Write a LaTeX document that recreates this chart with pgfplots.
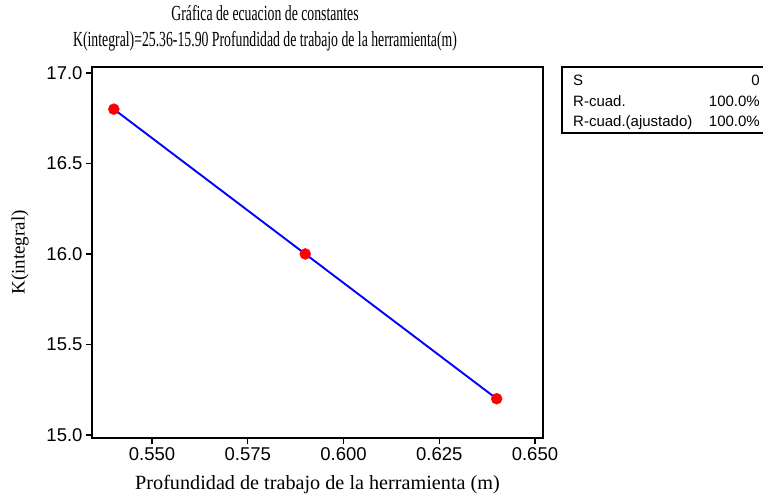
\documentclass[border=0pt]{standalone}
\usepackage{fontspec}
\usepackage{graphicx}
\usepackage{pgfplots}
\pgfplotsset{compat=1.18}
\setmainfont{Liberation Serif}
\newfontfamily\tickfont{Liberation Sans}

\begin{document}
\begin{tikzpicture}
\useasboundingbox (-92bp,-59bp) rectangle (671bp,438bp);
\begin{axis}[
  at={(0,0)}, anchor=south west,
  scale only axis,
  width=451bp, height=371bp,
  xmin=0.5343, xmax=0.6521,
  ymin=14.983, ymax=17.033,
  xtick={0.55,0.575,0.6,0.625,0.65},
  xticklabels={0.550,0.575,0.600,0.625,0.650},
  ytick={15,15.5,16,16.5,17},
  yticklabels={15.0,15.5,16.0,16.5,17.0},
  tick align=outside,
  tick pos=left,
  major tick length=6bp,
  axis line style={line width=1.6bp},
  xtick style={black, line width=1.3bp},
  ytick style={black, line width=1.3bp},
  tick label style={font=\tickfont\fontsize{18.5bp}{20bp}\selectfont},
  xlabel={Profundidad de trabajo de la herramienta (m)},
  ylabel={K(integral)},
  xlabel style={font=\fontsize{20.2bp}{22bp}\selectfont,
    at={(axis description cs:0.5,0)}, anchor=base, yshift=-51bp},
  ylabel style={font=\fontsize{19bp}{21bp}\selectfont,
    at={(axis description cs:-0.1596,0.5)}, anchor=center},
  clip=false,
]
\addplot [blue, line width=1.9bp] coordinates {
  (0.54, 16.80) (0.59, 16.00) (0.64, 15.20)
};
\addplot [only marks, mark=*, mark size=5.5bp, red, mark options={draw=red, fill=red}] coordinates {
  (0.54, 16.80) (0.59, 16.00) (0.64, 15.20)
};
\end{axis}

% titles
\node [anchor=base, font=\fontsize{21.5bp}{23bp}\selectfont] at (173bp,417bp)
  {\scalebox{0.64}[1]{Gráfica de ecuacion de constantes}};
\node [anchor=base, font=\fontsize{21.5bp}{23bp}\selectfont] at (173bp,391bp)
  {\scalebox{0.64}[1]{K(integral)=25.36-15.90 Profundidad de trabajo de la herramienta(m)}};

% stats box
\draw [line width=1.3bp] (470bp,371bp) rectangle (673bp,305bp);
\begin{scope}[every node/.style={inner sep=0pt, font=\tickfont\fontsize{15bp}{17bp}\selectfont}]
\node [anchor=base west] at (481bp,352bp) {S};
\node [anchor=base west] at (481bp,331bp) {R-cuad.};
\node [anchor=base west] at (481bp,311bp) {R-cuad.(ajustado)};
\node [anchor=base east] at (668bp,352bp) {0};
\node [anchor=base east] at (668bp,331bp) {100.0\%};
\node [anchor=base east] at (668bp,311bp) {100.0\%};
\end{scope}
\end{tikzpicture}
\end{document}
